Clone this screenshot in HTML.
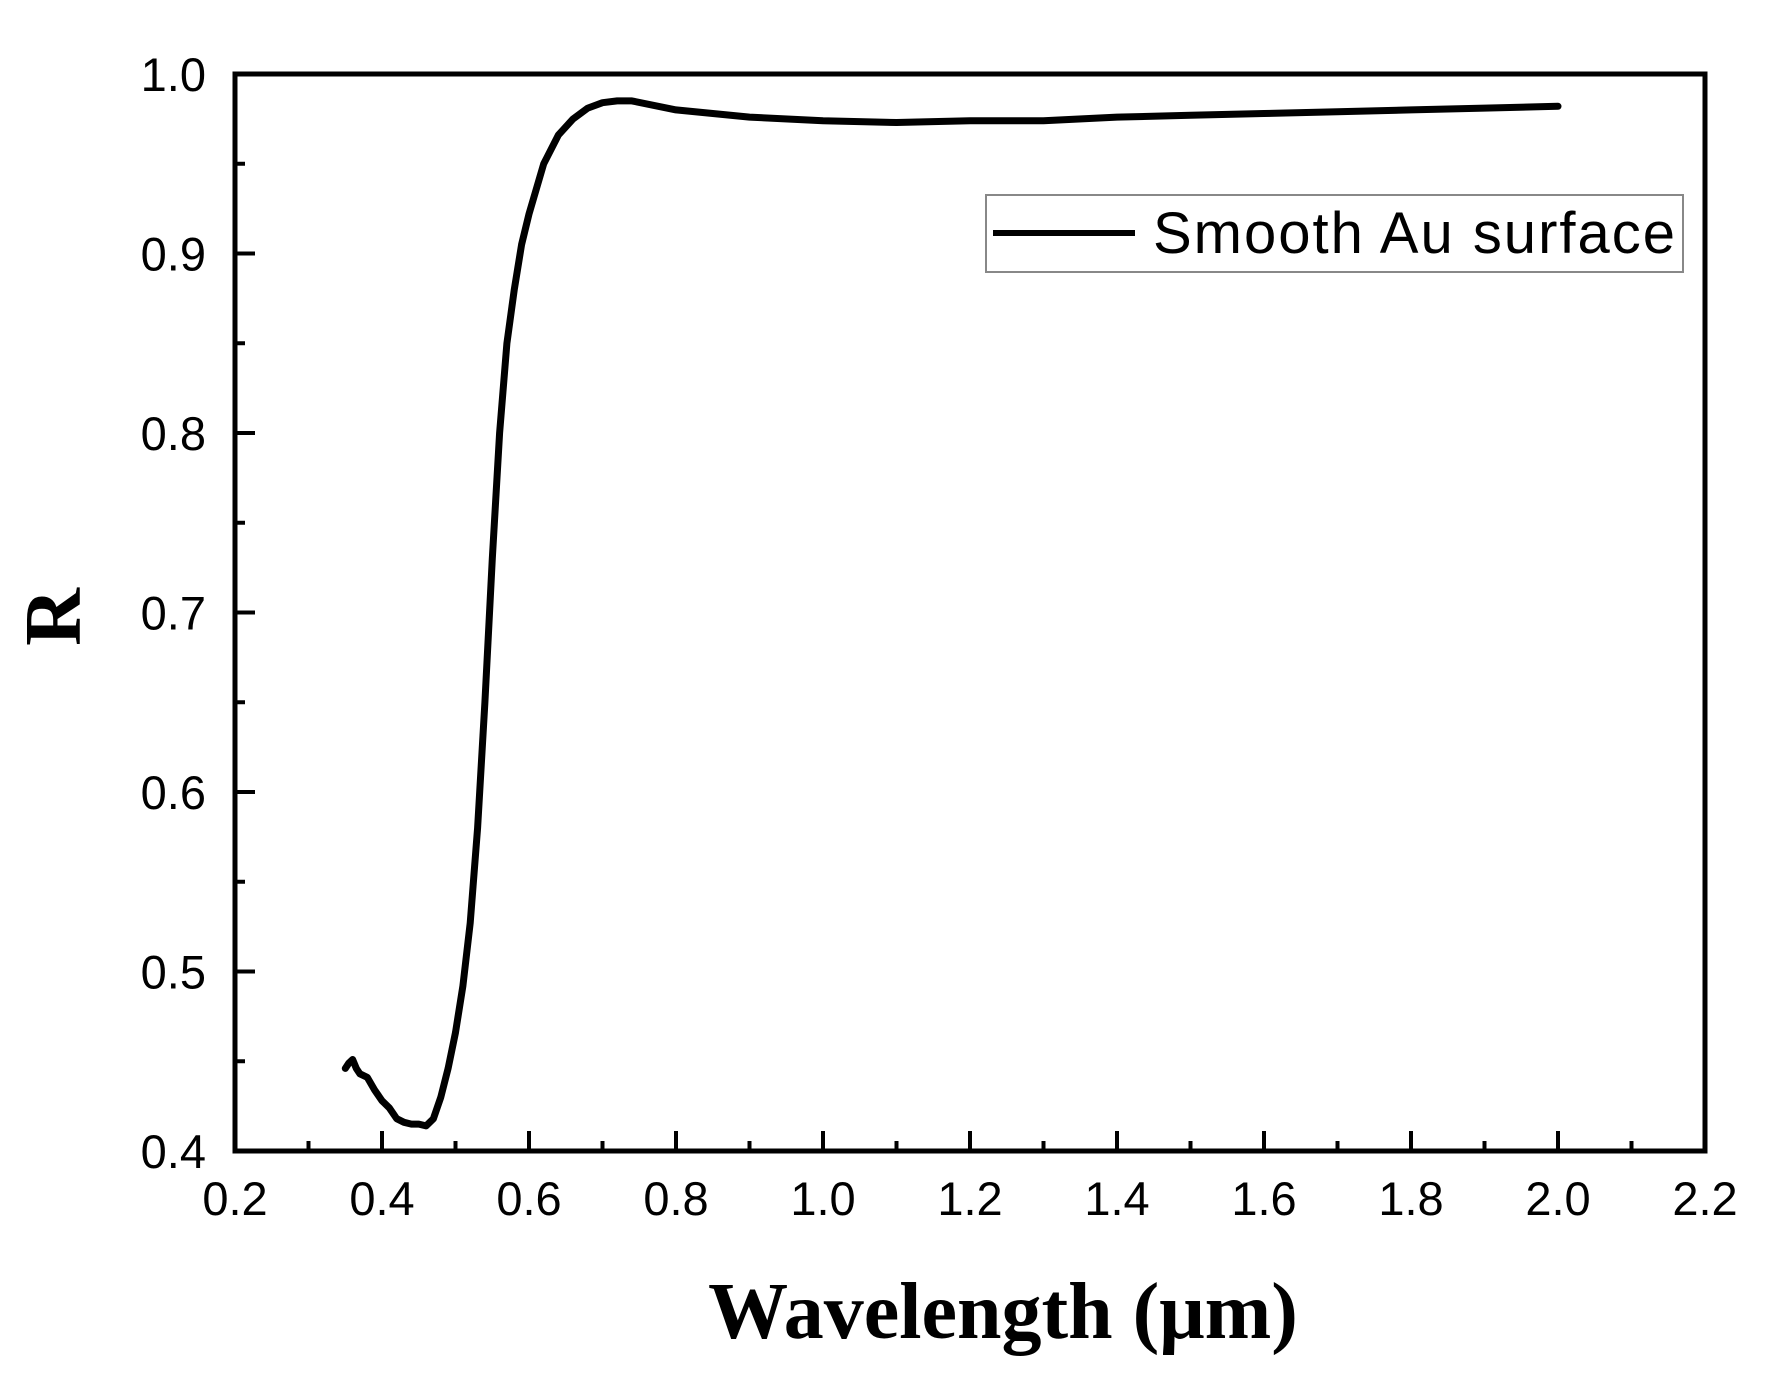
<!DOCTYPE html>
<html><head><meta charset="utf-8">
<style>
html,body{margin:0;padding:0;background:#fff;}
svg{display:block;}
</style></head>
<body>
<svg id="chart" width="1766" height="1395" viewBox="0 0 1766 1395" xmlns="http://www.w3.org/2000/svg">
<rect x="0" y="0" width="1766" height="1395" fill="#fff"/>
<g id="axes"></g>
<g id="series"></g>
<text x="1003" y="1338" text-anchor="middle" font-family="Liberation Serif, serif" font-weight="bold" font-size="80" fill="#000">Wavelength (μm)</text>
<text transform="translate(80,617) rotate(-90)" text-anchor="middle" font-family="Liberation Serif, serif" font-weight="bold" font-size="80" fill="#000">R</text>
<g>
<rect x="986" y="195" width="697" height="77" fill="#fff" stroke="#888" stroke-width="2"/>
<line x1="993" y1="233" x2="1135" y2="233" stroke="#000" stroke-width="6"/>
<text x="1153" y="253" font-family="Liberation Sans, sans-serif" font-size="58" fill="#000" textLength="522">Smooth Au surface</text>
</g>
</svg>
<script>
const wavelengths=[0.35,0.355,0.36,0.365,0.37,0.38,0.39,0.40,0.41,0.42,0.43,0.44,0.45,0.46,0.47,0.48,0.49,0.50,0.51,0.52,0.53,0.54,0.55,0.56,0.57,0.58,0.59,0.60,0.62,0.64,0.66,0.68,0.70,0.72,0.74,0.80,0.90,1.0,1.1,1.2,1.3,1.4,1.5,1.6,1.7,1.8,1.9,2.0];
const reflectance=[0.446,0.449,0.451,0.446,0.443,0.441,0.434,0.428,0.424,0.418,0.416,0.415,0.415,0.414,0.418,0.430,0.446,0.466,0.492,0.527,0.580,0.650,0.730,0.800,0.850,0.880,0.905,0.922,0.950,0.966,0.975,0.981,0.984,0.985,0.985,0.980,0.976,0.974,0.973,0.974,0.974,0.976,0.977,0.978,0.979,0.980,0.981,0.982];
const xTicks=[0.2,0.4,0.6,0.8,1.0,1.2,1.4,1.6,1.8,2.0,2.2];
const xTickLabels=["0.2","0.4","0.6","0.8","1.0","1.2","1.4","1.6","1.8","2.0","2.2"];
const yTicks=[0.4,0.5,0.6,0.7,0.8,0.9,1.0];
const yTickLabels=["0.4","0.5","0.6","0.7","0.8","0.9","1.0"];

const L=235,R=1705,T=74,B=1151;
const xMin=0.2,xMax=2.2,yMin=0.4,yMax=1.0;
function xs(v){return L+(v-xMin)/(xMax-xMin)*(R-L);}
function ys(v){return B-(v-yMin)/(yMax-yMin)*(B-T);}
const NS="http://www.w3.org/2000/svg";
const axes=document.getElementById('axes');
function mk(tag,attrs,parent){const e=document.createElementNS(NS,tag);for(const k in attrs)e.setAttribute(k,attrs[k]);parent.appendChild(e);return e;}

const frame=mk('rect',{x:L,y:T,width:R-L,height:B-T,fill:'none',stroke:'#000','stroke-width':5},axes);



xTicks.forEach((v,i)=>{
  const x=xs(v);
  const t=mk('line',{x1:x,y1:B,x2:x,y2:B-20,stroke:'#000','stroke-width':4},axes);
  
  
  const lb=mk('text',{x:x,y:1215,'text-anchor':'middle','font-family':'Liberation Sans, sans-serif','font-size':47,fill:'#000'},axes);
  lb.textContent=xTickLabels[i];
  
  
  if(i<xTicks.length-1){
    const xm=xs(v+0.1);
    const m=mk('line',{x1:xm,y1:B,x2:xm,y2:B-10,stroke:'#000','stroke-width':4},axes);
    
    
  }
});
yTicks.forEach((v,i)=>{
  const y=ys(v);
  const t=mk('line',{x1:L,y1:y,x2:L+20,y2:y,stroke:'#000','stroke-width':4},axes);
  
  
  const lb=mk('text',{x:206,y:y+17,'text-anchor':'end','font-family':'Liberation Sans, sans-serif','font-size':47,fill:'#000'},axes);
  lb.textContent=yTickLabels[i];
  
  
  if(i<yTicks.length-1){
    const ym=ys(v+0.05);
    const m=mk('line',{x1:L,y1:ym,x2:L+10,y2:ym,stroke:'#000','stroke-width':4},axes);
    
    
  }
});

const pts=wavelengths.map((w,i)=>xs(w).toFixed(1)+','+ys(reflectance[i]).toFixed(1)).join(' ');
const line=mk('polyline',{points:pts,fill:'none',stroke:'#000','stroke-width':7,'stroke-linejoin':'round','stroke-linecap':'round'},document.getElementById('series'));


</script>
</body></html>
